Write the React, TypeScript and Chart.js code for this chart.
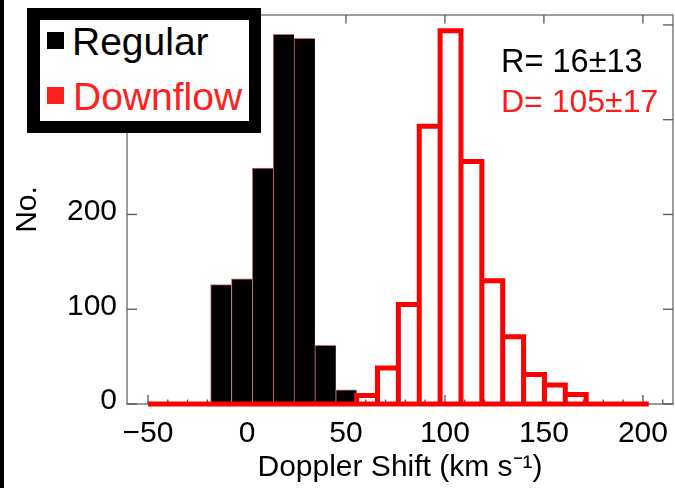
import React, { useEffect, useRef } from 'react';
import { Chart, registerables } from 'chart.js';

Chart.register(...registerables);

// ---- data ----
const binStart = -50;
const binWidth = 10.54;
const regularCounts = [0, 0, 0, 126, 132, 249, 390, 386, 62, 15, 0, 0, 0, 0, 0, 0, 0, 0, 0, 0, 0, 0, 0, 0];
const downflowCounts = [0, 0, 0, 0, 0, 0, 0, 0, 0, 0, 9, 38, 105, 293, 394, 256, 130, 71, 31, 20, 10, 0, 0, 0];
const xMajorTicks = [-50, 0, 50, 100, 150, 200];
const xMinorTicks = [-50, -40, -30, -20, -10, 0, 10, 20, 30, 40, 50, 60, 70, 80, 90, 100, 110, 120, 130, 140, 150, 160, 170, 180, 190, 200, 210];
const yMajorTicks = [0, 100, 200, 300, 400];
const xMin = -60.6;
const xMax = 215.2;
const yMin = 0;
const yMax = 410.5;
const legendLabels = ['Regular', 'Downflow'];
const statLabels = ['R= 16\u00B113', 'D= 105\u00B117'];
const xTitle = 'Doppler Shift (km s\u207B\u00B9)';
const yTitle = 'No.';

const RED = '#ff0000';
const FONT = '"Liberation Sans", Arial, Helvetica, sans-serif';

const framePlugin = {
  id: 'frameTicks',
  beforeDatasetsDraw(chart: any) {
    const { ctx, chartArea: a, scales } = chart;
    const x = scales.x;
    const y = scales.y;
    ctx.save();
    ctx.strokeStyle = '#7c7c7c';
    ctx.lineWidth = 1.5;
    ctx.strokeRect(a.left, a.top, a.right - a.left, a.bottom - a.top);
    ctx.strokeStyle = '#555';
    ctx.lineWidth = 1.3;
    const seg = (x1: number, y1: number, x2: number, y2: number) => {
      ctx.beginPath();
      ctx.moveTo(x1, y1);
      ctx.lineTo(x2, y2);
      ctx.stroke();
    };
    xMinorTicks.forEach((v) => {
      const px = x.getPixelForValue(v);
      const len = xMajorTicks.includes(v) ? 9 : 4.5;
      seg(px, a.bottom, px, a.bottom - len);
    });
    xMajorTicks.forEach((v) => {
      const px = x.getPixelForValue(v);
      seg(px, a.top, px, a.top + 8.5);
    });
    yMajorTicks.forEach((v) => {
      const py = y.getPixelForValue(v);
      seg(a.left, py, a.left + 10, py);
      seg(a.right, py, a.right - 10, py);
    });
    ctx.restore();
  },
};

export default function App() {
  const canvasRef = useRef<HTMLCanvasElement | null>(null);

  useEffect(() => {
    const canvas = canvasRef.current;
    if (!canvas) return;
    const edge = (k: number) => binStart + k * binWidth;

    const regularPts: any[] = [];
    regularCounts.forEach((c, k) => {
      if (c > 0) regularPts.push({ x: edge(k) + binWidth / 2, y: c });
    });
    const lastRegularX = regularPts[regularPts.length - 1].x;

    const outlinePts: any[] = [];
    downflowCounts.forEach((c, k) => {
      if (c > 0) {
        outlinePts.push({ x: edge(k), y: 0 });
        outlinePts.push({ x: edge(k), y: c });
        outlinePts.push({ x: edge(k + 1), y: c });
        outlinePts.push({ x: edge(k + 1), y: 0 });
        outlinePts.push({ x: edge(k + 1), y: null });
      }
    });
    const basePts = [
      { x: edge(0), y: 0 },
      { x: edge(downflowCounts.length), y: 0 },
    ];

    const font = { family: FONT, size: 30, weight: 'normal' as const };

    const chart = new Chart(canvas, {
      type: 'bar',
      data: {
        datasets: [
          {
            type: 'line',
            label: 'Downflow',
            data: outlinePts,
            borderColor: RED,
            borderWidth: 5,
            pointRadius: 0,
            fill: false,
            spanGaps: false,
            tension: 0,
            clip: false,
            order: 0,
            borderJoinStyle: 'miter',
            borderCapStyle: 'butt',
          } as any,
          {
            type: 'line',
            label: 'base',
            data: basePts,
            borderColor: RED,
            borderWidth: 5,
            pointRadius: 0,
            fill: false,
            clip: false,
            order: 0,
            borderCapStyle: 'butt',
          } as any,
          {
            type: 'bar',
            label: 'Regular',
            data: regularPts,
            backgroundColor: '#000000',
            borderColor: '#d06a6a',
            borderWidth: (ctx: any) => {
              const raw = ctx.raw;
              const last = raw && raw.x === lastRegularX;
              return { top: 1, left: 1, right: last ? 1 : 0, bottom: 0 };
            },
            borderSkipped: false,
            barPercentage: 1,
            categoryPercentage: 1,
            order: 1,
          } as any,
        ],
      },
      options: {
        animation: false,
        responsive: false,
        devicePixelRatio: 1,
        layout: { padding: { top: 15, right: 2, left: 0, bottom: 0 } },
        plugins: { legend: { display: false }, tooltip: { enabled: false } },
        scales: {
          x: {
            type: 'linear',
            min: xMin,
            max: xMax,
            offset: false,
            grid: { display: false, offset: false, drawTicks: false },
            border: { display: false },
            afterBuildTicks: (s: any) => {
              s.ticks = xMajorTicks.map((v) => ({ value: v }));
            },
            afterFit: (s: any) => {
              s.height = 84;
              s.paddingLeft = 0;
              s.paddingRight = 0;
            },
            ticks: {
              font,
              color: '#000',
              padding: 12,
              maxRotation: 0,
              autoSkip: false,
              callback: (v: any) => String(v).replace('-', '\u2212'),
            },
            title: {
              display: true,
              text: xTitle,
              font,
              color: '#000',
              padding: { top: 0, bottom: 2 },
            },
          },
          y: {
            type: 'linear',
            min: yMin,
            max: yMax,
            grid: { display: false, drawTicks: false },
            border: { display: false },
            afterBuildTicks: (s: any) => {
              s.ticks = yMajorTicks.map((v) => ({ value: v }));
            },
            afterFit: (s: any) => {
              s.width = 127;
              s.paddingTop = 0;
              s.paddingBottom = 0;
            },
            ticks: { font, color: '#000', padding: 10, labelOffset: -3 },
            title: {
              display: true,
              text: yTitle,
              font,
              color: '#000',
              padding: { top: 10, bottom: 0 },
            },
          },
        },
      } as any,
      plugins: [framePlugin],
    });

    return () => chart.destroy();
  }, []);

  const textBase: React.CSSProperties = {
    position: 'absolute',
    fontFamily: FONT,
    lineHeight: 1,
    whiteSpace: 'nowrap',
    margin: 0,
  };

  return (
    <div
      style={{
        position: 'fixed',
        left: 0,
        top: 0,
        width: 675,
        height: 488,
        background: '#fff',
        overflow: 'hidden',
      }}
    >
      <canvas ref={canvasRef} width={675} height={488} style={{ display: 'block', width: 675, height: 488 }} />
      <div style={{ position: 'absolute', left: 0, top: 0, width: 4, height: 488, background: '#000' }} />
      {/* legend */}
      <div
        style={{
          position: 'absolute',
          left: 27,
          top: 8,
          width: 234,
          height: 125,
          boxSizing: 'border-box',
          borderTop: '12px solid #000',
          borderBottom: '12px solid #000',
          borderLeft: '13px solid #000',
          borderRight: '12px solid #000',
          background: '#fff',
        }}
      />
      <div style={{ position: 'absolute', left: 47, top: 32, width: 17, height: 17, background: '#000' }} />
      <div style={{ ...textBase, left: 72, top: 22, fontSize: 39, color: '#000' }}>{legendLabels[0]}</div>
      <div style={{ position: 'absolute', left: 47, top: 87, width: 17, height: 17, background: '#ff2020' }} />
      <div style={{ ...textBase, left: 73, top: 77, fontSize: 39, color: '#ff2020' }}>{legendLabels[1]}</div>
      {/* stats */}
      <div style={{ ...textBase, left: 501, top: 45, fontSize: 32.5, color: '#000' }}>{statLabels[0]}</div>
      <div style={{ ...textBase, left: 501, top: 85, fontSize: 32, color: '#ff1a1a' }}>{statLabels[1]}</div>
    </div>
  );
}
